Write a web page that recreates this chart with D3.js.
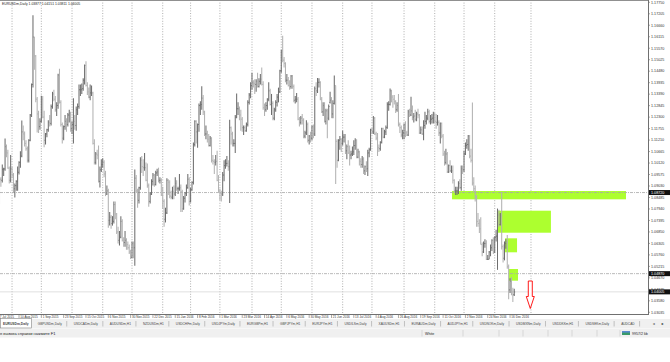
<!DOCTYPE html>
<html>
<head>
<meta charset="utf-8">
<script src="https://cdn.jsdelivr.net/npm/d3@7/dist/d3.min.js"></script>
<style>
body { margin: 0; background: #fff; overflow: hidden; }
text { font-family: "Liberation Sans", Arial, sans-serif; }
</style>
</head>
<body>
<div id="chart"></div>
<script>
// daily bars EURUSD, 17 Jul 2015 .. 21 Dec 2016, [open, high, low, close] in pips over 1.0000
const bars = [
[875,900,810,830],[830,880,808,825],[825,940,818,935],[935,945,900,930],[930,1005,920,982],[982,990,950,984],
[984,1129,975,1090],[1090,1100,1040,1060],[1060,1075,985,988],[988,995,915,930],[930,1050,920,985],
[985,995,940,955],[955,965,870,890],[890,915,848,905],[905,930,880,925],[925,995,880,968],
[968,1020,958,1015],[1015,1068,990,1045],[1045,1214,1040,1160],[1160,1190,1120,1150],[1150,1162,1090,1105],
[1105,1120,1070,1080],[1080,1090,1015,1025],[1025,1125,1015,1120],[1120,1245,1115,1240],[1240,1390,1230,1385],
[1385,1714,1370,1610],[1610,1612,1455,1520],[1520,1525,1300,1315],[1315,1325,1157,1245],[1245,1260,1155,1185],
[1185,1225,1170,1210],[1210,1332,1205,1315],[1315,1330,1225,1230],[1230,1260,1087,1120],[1120,1155,1100,1150],
[1150,1175,1135,1170],[1170,1215,1160,1205],[1205,1240,1185,1200],[1200,1290,1190,1280],[1280,1350,1270,1340],
[1340,1360,1305,1315],[1315,1330,1255,1265],[1265,1300,1235,1285],[1285,1436,1270,1430],[1430,1460,1295,1300],
[1300,1310,1185,1195],[1195,1205,1105,1130],[1130,1190,1120,1185],[1185,1240,1170,1210],[1210,1225,1160,1195],
[1195,1250,1185,1240],[1240,1265,1205,1250],[1250,1255,1160,1175],[1175,1210,1150,1195],[1195,1320,1105,1210],
[1210,1240,1170,1190],[1190,1280,1165,1265],[1265,1295,1240,1280],[1280,1385,1270,1360],[1360,1385,1330,1360],
[1360,1390,1340,1365],[1365,1415,1355,1405],[1405,1480,1385,1475],[1475,1495,1375,1380],[1380,1395,1335,1350],
[1350,1370,1320,1325],[1325,1385,1310,1345],[1345,1380,1330,1345],[1345,1350,1100,1105],[1105,1125,1005,1015],
[1015,1065,1005,1055],[1055,1075,1030,1050],[1050,1095,920,925],[925,995,896,980],[980,1030,970,1005],
[1005,1035,990,1015],[1015,1025,945,960],[960,975,855,865],[865,905,860,880],[880,890,705,740],
[740,780,715,755],[755,765,700,725],[725,760,715,735],[735,830,725,815],[815,830,745,770],
[770,775,675,685],[685,710,630,645],[645,690,620,660],[660,760,655,735],[735,745,640,645],
[645,660,615,635],[635,690,615,645],[645,655,600,625],[625,640,600,610],[610,625,580,590],
[590,600,557,565],[565,640,560,630],[630,640,560,610],[610,981,524,940],[940,955,875,880],
[880,890,800,835],[835,900,820,895],[895,1040,885,1025],[1025,1045,965,995],[995,1030,950,990],
[990,1060,975,990],[990,1015,925,930],[930,1010,895,905],[905,915,805,830],[830,875,820,865],
[865,935,860,925],[925,965,905,955],[955,960,900,910],[910,975,905,965],
[965,985,950,970],[970,990,920,930],[930,945,915,930],[930,940,855,860],
[860,900,795,830],[830,840,710,745],[745,800,730,775],[775,940,770,930],[930,935,860,920],
[920,930,845,855],[855,880,840,850],[850,900,840,875],[875,905,840,865],[865,945,855,915],
[915,930,880,890],[890,900,865,890],[890,960,880,895],[895,910,780,875],[875,885,780,795],
[795,855,790,845],[845,875,825,870],[870,910,855,895],[895,960,890,935],[935,945,810,830],
[830,895,825,885],[885,925,880,920],[920,1110,910,1100],[1100,1215,1090,1210],[1210,1215,1105,1160],
[1160,1200,1085,1195],[1195,1295,1160,1285],[1285,1305,1240,1290],[1290,1376,1265,1320],[1320,1335,1240,1255],
[1255,1260,1140,1150],[1150,1190,1125,1150],[1150,1165,1110,1125],[1125,1150,1090,1095],[1095,1140,1090,1130],
[1130,1135,1015,1025],[1025,1050,1005,1020],[1020,1030,960,1015],[1015,1050,1000,1020],[1020,1070,925,930],
[930,955,875,875],[875,890,835,870],[870,880,830,865],[865,970,855,955],[955,1025,925,1000],
[1000,1030,985,1010],[1010,1045,995,1010],[1010,1025,975,995],[995,1218,822,1180],[1180,1185,1100,1150],
[1150,1160,1090,1105],[1105,1125,1090,1105],[1105,1240,1060,1230],[1230,1342,1225,1270],[1270,1300,1240,1270],
[1270,1280,1215,1240],[1240,1265,1165,1220],[1220,1230,1160,1180],[1180,1190,1145,1180],[1180,1190,1160,1165],
[1165,1205,1160,1195],[1195,1310,1185,1300],[1300,1345,1290,1335],[1335,1395,1320,1380],[1380,1440,1360,1395],
[1395,1405,1370,1390],[1390,1410,1340,1385],[1385,1410,1350,1400],[1400,1440,1370,1375],[1375,1415,1370,1400],
[1400,1435,1385,1410],[1410,1465,1380,1385],[1385,1400,1265,1275],[1275,1295,1235,1265],[1265,1300,1255,1285],
[1285,1320,1265,1315],[1315,1395,1305,1355],[1355,1365,1285,1290],[1290,1340,1240,1295],[1295,1305,1215,1225],
[1225,1275,1215,1265],[1265,1310,1255,1300],[1300,1340,1280,1325],[1325,1370,1300,1350],[1350,1455,1345,1450],
[1450,1550,1440,1545],[1545,1616,1490,1500],[1500,1515,1465,1485],[1485,1490,1395,1405],[1405,1435,1385,1405],
[1405,1420,1375,1380],[1380,1405,1360,1375],[1375,1430,1365,1425],[1425,1430,1365,1375],[1375,1385,1300,1310],
[1310,1330,1295,1315],[1315,1345,1300,1315],[1315,1325,1215,1220],[1220,1230,1185,1205],[1205,1235,1195,1225],
[1225,1245,1195,1215],[1215,1225,1130,1140],[1140,1165,1130,1155],[1155,1215,1145,1195],[1195,1205,1110,1120],
[1120,1145,1100,1140],[1140,1160,1110,1130],[1130,1190,1120,1185],[1185,1195,1130,1150],[1150,1375,1140,1365],
[1365,1395,1330,1355],[1355,1416,1345,1395],[1395,1415,1370,1395],[1395,1400,1310,1315],[1315,1325,1250,1255],
[1255,1300,1235,1285],[1285,1300,1205,1210],[1210,1270,1195,1260],[1260,1270,1130,1225],[1225,1290,1215,1280],
[1300,1350,1295,1310],[1310,1325,1225,1245],[1245,1310,1225,1295],[1295,1427,1290,1380],[1380,1380,912,1115],
[1115,1125,990,1025],[1025,1125,1020,1120],[1120,1140,1075,1125],[1125,1130,1065,1105],[1105,1165,1095,1135],
[1135,1150,1110,1135],[1135,1150,1055,1070],[1070,1100,1030,1090],[1090,1120,1055,1060],[1060,1095,1000,1050],
[1050,1070,1030,1055],[1055,1090,1045,1065],[1065,1120,1050,1095],[1095,1130,1075,1120],[1120,1125,1035,1040],
[1040,1080,1035,1065],[1065,1070,1000,1020],[1020,1035,990,1005],[1005,1045,990,1030],[1030,1040,960,975],
[975,1000,955,995],[995,1020,970,985],[985,1075,950,1060],[1060,1085,1040,1075],[1075,1175,1070,1170],
[1170,1180,1150,1160],[1160,1235,1150,1225],[1225,1230,1145,1150],[1150,1160,1120,1130],[1130,1155,1045,1085],
[1085,1100,1065,1080],[1080,1115,1070,1110],[1110,1180,1105,1175],[1175,1180,1130,1135],[1135,1170,1130,1160],
[1160,1190,1145,1180],[1180,1300,1175,1290],[1290,1305,1260,1290],[1290,1366,1285,1355],[1355,1360,1300,1325],
[1325,1335,1275,1315],[1315,1335,1290,1305],[1305,1310,1250,1265],[1265,1300,1255,1285],[1285,1340,1185,1195],
[1195,1205,1155,1180],[1180,1190,1135,1145],[1145,1170,1125,1155],[1155,1200,1125,1195],[1195,1210,1135,1155],
[1155,1165,1140,1145],[1145,1265,1140,1255],[1255,1270,1230,1240],[1240,1327,1235,1260],[1260,1285,1215,1230],
[1230,1250,1205,1235],[1235,1265,1210,1220],[1220,1255,1210,1245],[1245,1270,1225,1240],[1240,1245,1150,1155],
[1155,1185,1150,1170],[1170,1185,1145,1150],[1150,1215,1120,1190],[1190,1255,1175,1210],[1210,1240,1195,1225],
[1225,1270,1215,1255],[1255,1265,1200,1210],[1210,1240,1195,1220],[1220,1245,1200,1225],[1225,1255,1200,1240],
[1240,1250,1200,1210],[1210,1245,1175,1205],[1205,1240,1190,1205],[1205,1215,1140,1155],[1155,1205,1105,1200],
[1200,1205,1130,1140],[1140,1150,1045,1055],[1055,1070,1000,1015],[1015,1080,1005,1055],[1055,1065,965,970],
[970,1005,965,1000],[1000,1025,970,975],[975,1000,965,975],[975,1000,915,930],[930,935,870,880],
[880,900,860,880],[880,900,860,880],[880,925,865,915],[915,935,890,895],[895,1000,880,985],
[985,1000,960,980],[980,1070,970,1055],[1055,1110,1050,1095],[1095,1125,1080,1100],[1100,1145,1070,1140],
[1140,1145,1035,1045],[1045,1080,1015,1025],[1025,1299,905,917],[917,945,875,890],[890,905,830,850],
[850,860,710,735],[735,775,710,725],[725,745,680,700],[700,755,625,625],[625,635,569,590],
[590,640,585,630],[630,650,610,630],[630,645,552,555],[555,575,552,555],[555,595,555,590],
[590,625,570,610],[610,650,595,645],[645,660,580,590],[590,665,585,660],[660,695,640,665],
[665,796,505,765],[765,790,710,720],[720,775,715,760],[760,874,602,615],[615,625,540,560],
[560,640,550,630],[630,650,605,635],[635,670,510,520],[520,530,366,410],[410,465,395,450],
[450,470,385,400],[400,420,352,385],[388,415,381,400]
];

const tickBars = [0,16,32,48,64,80,96,112,128,144,160,176,192,208,224,240,256,272,288,304,320,336,352,368];
const tickLabels = ["17 Jul 2015","10 Aug 2015","1 Sep 2015","23 Sep 2015","15 Oct 2015","6 Nov 2015",
  "30 Nov 2015","22 Dec 2015","15 Jan 2016","8 Feb 2016","1 Mar 2016","23 Mar 2016","14 Apr 2016",
  "6 May 2016","30 May 2016","21 Jun 2016","13 Jul 2016","4 Aug 2016","26 Aug 2016","19 Sep 2016",
  "11 Oct 2016","2 Nov 2016","24 Nov 2016","16 Dec 2016"];
const monthStartBars = [11,32,54,76,97,119,139,160,183,204,226,248,269,292,314,335,357,383];

const priceLabels = ["1.17750","1.17205","1.16660","1.16115","1.15570","1.15025","1.14480","1.13935",
  "1.13390","1.12845","1.12300","1.11755","1.11210","1.10665","1.10120","1.09575","1.09030","1.08485",
  "1.07940","1.07395","1.06850","1.06305","1.05760","1.05215","1.04670","1.04125","1.03580","1.03035"];

const levelLines = [1.08720, 1.04870];
const bidPrice = 1.04005;

const zoneStart = [326.4, 358.6, 364.4, 367.2];
const zoneEnd   = [451.1, 397.3, 373.0, 373.7];
const zoneHigh  = [1.08792, 1.07857, 1.06547, 1.05090];
const zoneLow   = [1.08398, 1.06813, 1.05883, 1.04535];

const arrowBar = 382.5, arrowPrice = 1.0452;

const header = "EURUSDm,Daily  1.03877 1.04151 1.03811 1.04005";
const tabs = ["EURUSDm,Daily","GBPUSDm,Daily","USDCADm,Daily","AUDUSDm,H1","NZDUSDm,H1","USDCHFm,Daily",
  "USDJPYm,Daily","EURGBPm,H1","GBPJPYm,H1","EURJPYm,H1","USDILSm,Daily","XAUUSDm,H1","EURAUDm,Daily",
  "AUDJPYm,H1","USDNOKm,Daily","USDMXNm,Daily","USDDKKm,H1","USDSEKm,Daily","AUDCAD"];

const W = 670, H = 362;
const plotRight = 648, plotBottom = 314;

const svg = d3.select("#chart").append("svg")
    .attr("width", W).attr("height", H);

const x = d3.scaleLinear().domain([0, 370]).range([-3.3, 512.85]);
const y = d3.scaleLinear()
    .domain([+priceLabels[0], +priceLabels[priceLabels.length - 1]])
    .range([2.3, 312.3]);
const px = v => 1 + v / 10000;

svg.append("clipPath").attr("id", "plot")
    .append("rect").attr("x", 0).attr("y", 0).attr("width", plotRight).attr("height", plotBottom);
svg.append("clipPath").attr("id", "tabclip")
    .append("rect").attr("x", 0).attr("y", 300).attr("width", plotRight).attr("height", 40);

const plot = svg.append("g").attr("clip-path", "url(#plot)");

// month separators
plot.selectAll(".sep")
    .data(monthStartBars)
    .join("line")
    .attr("x1", d => x(d)).attr("x2", d => x(d))
    .attr("y1", 0).attr("y2", plotBottom)
    .attr("stroke", "#9a9a9a")
    .attr("stroke-width", 0.8)
    .attr("stroke-dasharray", "1,1.6");

// zones
plot.selectAll(".zone")
    .data(zoneStart)
    .join("rect")
    .attr("x", d => x(d))
    .attr("width", (d, i) => x(zoneEnd[i]) - x(d))
    .attr("y", (d, i) => y(zoneHigh[i]))
    .attr("height", (d, i) => y(zoneLow[i]) - y(zoneHigh[i]))
    .attr("fill", "#adff2f");

// level lines
plot.selectAll(".level")
    .data(levelLines)
    .join("line")
    .attr("x1", 0).attr("x2", plotRight)
    .attr("y1", d => y(d)).attr("y2", d => y(d))
    .attr("stroke", "#a8a8a8")
    .attr("stroke-width", 0.8)
    .attr("stroke-dasharray", "3,1,1,1");

plot.append("line")
    .attr("x1", 0).attr("x2", plotRight)
    .attr("y1", y(bidPrice)).attr("y2", y(bidPrice))
    .attr("stroke", "#d8d8d8").attr("stroke-width", 0.8);

// bars
const g = plot.append("g");
bars.forEach((b, i) => {
    const col = b[3] >= b[0] ? "#6e6e6e" : "#b2b2b2";
    const cx = x(i);
    g.append("line")
        .attr("x1", cx).attr("x2", cx)
        .attr("y1", y(px(b[1]))).attr("y2", y(px(b[2])))
        .attr("stroke", col).attr("stroke-width", 1.05);
    g.append("line")
        .attr("x1", cx - 0.9).attr("x2", cx)
        .attr("y1", y(px(b[0]))).attr("y2", y(px(b[0])))
        .attr("stroke", col).attr("stroke-width", 0.8);
    g.append("line")
        .attr("x1", cx).attr("x2", cx + 0.9)
        .attr("y1", y(px(b[3]))).attr("y2", y(px(b[3])))
        .attr("stroke", col).attr("stroke-width", 0.8);
});

// red arrow
const ax = x(arrowBar), ay = y(arrowPrice);
plot.append("path")
    .attr("d", `M${ax-2},${ay} L${ax+2},${ay} L${ax+2},${ay+15.5} L${ax+4},${ay+15.5} L${ax},${ay+27.5} L${ax-4},${ay+15.5} L${ax-2},${ay+15.5} Z`)
    .attr("fill", "#fff").attr("stroke", "#ff0000").attr("stroke-width", 0.9);

// header
svg.append("text")
    .attr("x", 2).attr("y", 5)
    .attr("font-size", 3.4).attr("fill", "#222")
    .text(header);

// frame
svg.append("line").attr("x1", 0).attr("x2", plotRight).attr("y1", 0.5).attr("y2", 0.5)
    .attr("stroke", "#909090");
svg.append("line").attr("x1", plotRight + 0.5).attr("x2", plotRight + 0.5).attr("y1", 0).attr("y2", plotBottom)
    .attr("stroke", "#707070");
svg.append("line").attr("x1", 0).attr("x2", plotRight + 1).attr("y1", plotBottom + 0.5).attr("y2", plotBottom + 0.5)
    .attr("stroke", "#707070");

// price axis
const ya = svg.append("g");
priceLabels.forEach(p => {
    ya.append("line").attr("x1", plotRight).attr("x2", plotRight + 2)
        .attr("y1", y(+p)).attr("y2", y(+p)).attr("stroke", "#707070").attr("stroke-width", 0.6);
    ya.append("text").attr("x", 651).attr("y", y(+p) + 1.3)
        .attr("font-size", 3.7).attr("fill", "#333").text(p);
});

// price tags
[levelLines[0], levelLines[1], bidPrice].forEach(p => {
    ya.append("rect").attr("x", plotRight + 1).attr("y", y(p) - 2.5)
        .attr("width", 21).attr("height", 5).attr("fill", "#111");
    ya.append("text").attr("x", 651).attr("y", y(p) + 1.3)
        .attr("font-size", 3.7).attr("fill", "#fff").text(p.toFixed(5));
});

// time axis
const xa = svg.append("g").attr("clip-path", "url(#tabclip)");
tickBars.forEach((t, i) => {
    xa.append("line").attr("x1", x(t)).attr("x2", x(t))
        .attr("y1", plotBottom).attr("y2", plotBottom + 4)
        .attr("stroke", "#707070").attr("stroke-width", 0.6);
    xa.append("text").attr("x", x(t) + 1.3).attr("y", plotBottom + 4)
        .attr("font-size", 3.1).attr("fill", "#333").text(tickLabels[i]);
});

// tab bar
const tabY = 319;
svg.append("rect").attr("x", 0).attr("y", tabY).attr("width", W).attr("height", 9.5).attr("fill", "#f0f0f0");
const tabG = svg.append("g").attr("clip-path", "url(#tabclip)");
let tx = 0;
tabs.forEach((name, i) => {
    const tg = tabG.append("g");
    const t = tg.append("text").attr("x", tx + (i === 0 ? 3 : 6)).attr("y", tabY + 6.1)
        .attr("font-size", i === 0 ? 3.3 : 3.2).attr("fill", "#444")
        .attr("font-weight", i === 0 ? "bold" : "normal")
        .text(name);
    const len = t.node().getComputedTextLength();
    const w = i === 0 ? len + 6 : len + 12;
    if (i === 0) {
        tg.insert("rect", "text")
            .attr("x", 0.5).attr("y", tabY - 0.5).attr("width", w - 0.5).attr("height", 9.5)
            .attr("fill", "#fff").attr("stroke", "#808080").attr("stroke-width", 0.6);
    } else {
        tg.append("line").attr("x1", tx + w - 1).attr("x2", tx + w - 1)
            .attr("y1", tabY + 2).attr("y2", tabY + 7.5).attr("stroke", "#a0a0a0").attr("stroke-width", 0.6);
    }
    tx += w;
});
svg.append("text").attr("x", 652).attr("y", tabY + 6.1).attr("font-size", 3.4).attr("fill", "#666").text("◄");
svg.append("text").attr("x", 661).attr("y", tabY + 6.1).attr("font-size", 3.4).attr("fill", "#222").text("►");

// status bar
const stY = 329;
svg.append("rect").attr("x", 0).attr("y", stY).attr("width", W).attr("height", 8.5).attr("fill", "#f0f0f0");
svg.append("text").attr("x", -5).attr("y", stY + 5.6).attr("font-size", 4).attr("fill", "#222")
    .text("Для вызова справки нажмите F1");
[422, 463, 499, 523, 548, 572, 597, 620].forEach(s => {
    svg.append("line").attr("x1", s).attr("x2", s).attr("y1", stY + 1).attr("y2", stY + 7.5)
        .attr("stroke", "#c8c8c8").attr("stroke-width", 0.6);
});
svg.append("text").attr("x", 425).attr("y", stY + 5.6).attr("font-size", 3.6).attr("fill", "#222").text("White");
svg.append("rect").attr("x", 622).attr("y", stY + 2).attr("width", 8).attr("height", 4).attr("fill", "#3a9a6a");
svg.append("rect").attr("x", 622).attr("y", stY + 2).attr("width", 8).attr("height", 1.6).attr("fill", "#5a8ad0");
svg.append("text").attr("x", 632).attr("y", stY + 5.6).attr("font-size", 3.6).attr("fill", "#222").text("9957/2 kb");
</script>
</body>
</html>
